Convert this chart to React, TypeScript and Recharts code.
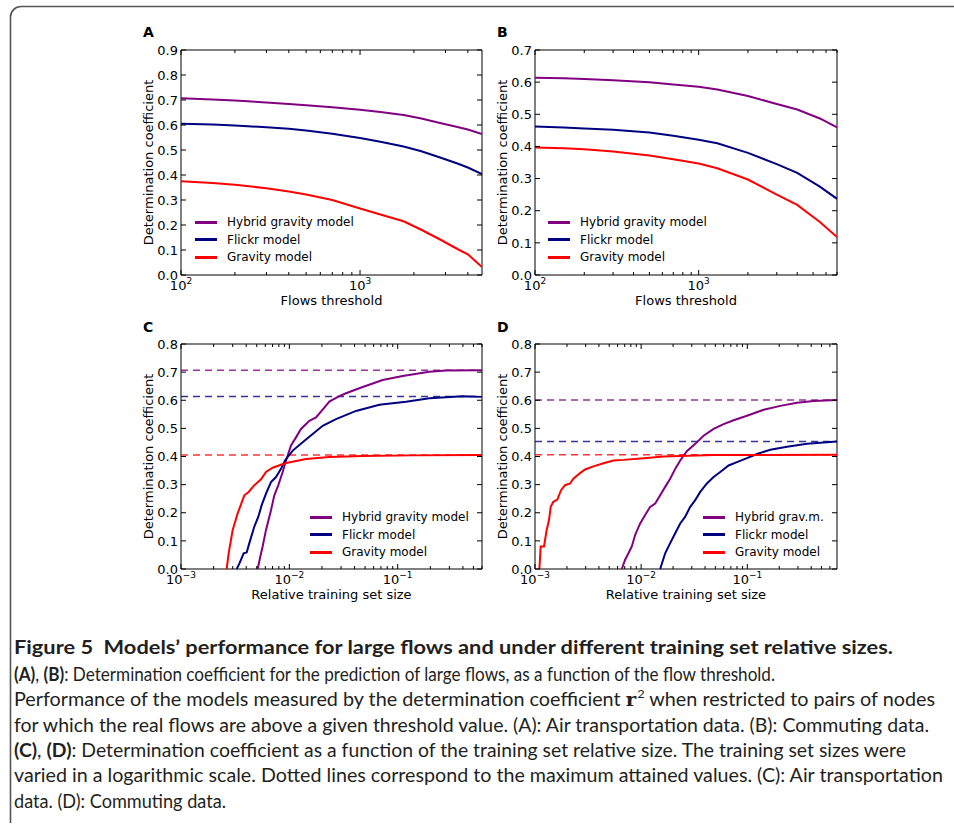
import React from 'react';
import { LineChart, Line, XAxis, YAxis, ReferenceLine, ReferenceArea, Legend, Label } from 'recharts';

const FONT = '"DejaVu Sans", sans-serif';
const CAPTION_FONT = 'Lato, "Open Sans", sans-serif';
const PURPLE = '#800080';
const NAVY = '#000080';
const RED = '#ff0000';

// (A) air transportation: r2 vs flows threshold
const thresholdsA = [100, 150, 200, 300, 400, 500, 700, 1000, 1300, 1750, 2200, 2800, 3500, 4000, 4800];
const hybridA = [0.707, 0.702, 0.698, 0.69, 0.684, 0.679, 0.671, 0.661, 0.652, 0.64, 0.626, 0.608, 0.592, 0.582, 0.564];
const flickrA = [0.605, 0.602, 0.598, 0.591, 0.585, 0.578, 0.565, 0.548, 0.533, 0.514, 0.495, 0.47, 0.446, 0.43, 0.404];
const gravityA = [0.375, 0.368, 0.361, 0.347, 0.334, 0.322, 0.3, 0.266, 0.242, 0.215, 0.181, 0.142, 0.104, 0.083, 0.032];

// (B) commuting: r2 vs flows threshold
const thresholdsB = [100, 150, 200, 300, 500, 700, 1000, 1300, 2000, 3000, 4000, 5500, 7000];
const hybridB = [0.614, 0.612, 0.61, 0.606, 0.6, 0.593, 0.586, 0.577, 0.557, 0.532, 0.515, 0.487, 0.459];
const flickrB = [0.462, 0.459, 0.456, 0.452, 0.443, 0.433, 0.421, 0.41, 0.38, 0.345, 0.318, 0.275, 0.237];
const gravityB = [0.397, 0.394, 0.391, 0.384, 0.372, 0.36, 0.347, 0.332, 0.297, 0.25, 0.218, 0.165, 0.118];

// (C) air transportation: r2 vs relative training set size
const sizeHybridC = [0.0051, 0.00536, 0.00567, 0.00609, 0.00677, 0.00727, 0.00791, 0.00868, 0.00932, 0.01036, 0.01152, 0.01281, 0.0153, 0.01763, 0.02104, 0.02339, 0.02893, 0.03334, 0.04752, 0.07268, 0.1112, 0.196, 0.2794, 0.595];
const hybridC = [0, 0.039, 0.08, 0.139, 0.209, 0.262, 0.298, 0.345, 0.386, 0.439, 0.468, 0.498, 0.527, 0.539, 0.574, 0.595, 0.615, 0.625, 0.647, 0.672, 0.686, 0.701, 0.706, 0.707];
const sizeFlickrC = [0.003266, 0.003454, 0.003788, 0.004038, 0.004273, 0.004752, 0.005173, 0.005554, 0.006089, 0.006772, 0.00753, 0.008377, 0.00912, 0.01074, 0.01327, 0.01642, 0.02031, 0.02696, 0.04125, 0.06772, 0.1194, 0.196, 0.398, 0.595];
const flickrC = [0, 0.019, 0.056, 0.059, 0.092, 0.151, 0.186, 0.227, 0.268, 0.309, 0.327, 0.356, 0.386, 0.421, 0.451, 0.48, 0.509, 0.533, 0.562, 0.584, 0.595, 0.607, 0.614, 0.612];
const sizeGravityC = [0.002639, 0.002754, 0.003, 0.003335, 0.003842, 0.004213, 0.004752, 0.005476, 0.006089, 0.007018, 0.00912, 0.01425, 0.02339, 0.04752, 0.1376, 0.595];
const gravityC = [0, 0.056, 0.139, 0.198, 0.262, 0.274, 0.298, 0.319, 0.345, 0.36, 0.376, 0.391, 0.398, 0.402, 0.404, 0.405];
const maxC = [0.707, 0.613, 0.405];

// (D) commuting: r2 vs relative training set size
const sizeHybridD = [0.006571, 0.007066, 0.007594, 0.008166, 0.008779, 0.009786, 0.01091, 0.01216, 0.01356, 0.01511, 0.01684, 0.01877, 0.02093, 0.02333, 0.02696, 0.03232, 0.03873, 0.04813, 0.05981, 0.07431, 0.09929, 0.1426, 0.2048, 0.2941, 0.4225, 0.7];
const hybridD = [0, 0.033, 0.056, 0.08, 0.121, 0.162, 0.192, 0.221, 0.233, 0.262, 0.292, 0.321, 0.356, 0.386, 0.419, 0.445, 0.474, 0.498, 0.515, 0.529, 0.545, 0.566, 0.58, 0.591, 0.597, 0.601];
const sizeFlickrD = [0.01511, 0.01684, 0.01877, 0.02093, 0.02333, 0.02601, 0.02899, 0.03232, 0.03603, 0.04164, 0.04813, 0.05564, 0.06668, 0.07991, 0.09929, 0.1234, 0.1648, 0.2367, 0.3655, 0.525, 0.7];
const flickrD = [0, 0.056, 0.092, 0.127, 0.162, 0.186, 0.221, 0.245, 0.274, 0.304, 0.327, 0.345, 0.368, 0.38, 0.394, 0.409, 0.424, 0.435, 0.445, 0.45, 0.453];
const sizeGravityD = [0.0011, 0.001131, 0.001216, 0.001288, 0.001356, 0.001405, 0.001489, 0.001624, 0.001759, 0.001919, 0.002139, 0.002299, 0.002658, 0.002963, 0.00355, 0.004413, 0.005483, 0.006813, 0.01131, 0.01624, 0.04813, 0.7];
const gravityD = [0, 0.08, 0.08, 0.139, 0.174, 0.221, 0.239, 0.247, 0.28, 0.298, 0.304, 0.321, 0.341, 0.354, 0.365, 0.376, 0.386, 0.388, 0.395, 0.4, 0.405, 0.406];
const maxD = [0.601, 0.453, 0.406];

// axis ticks
const thresholdTicksA = [100, 200, 300, 400, 500, 600, 700, 800, 900, 1000, 2000, 3000, 4000];
const thresholdTicksB = [100, 200, 300, 400, 500, 600, 700, 800, 900, 1000, 2000, 3000, 4000, 5000, 6000, 7000];
const sizeTicks = [0.001, 0.002, 0.003, 0.004, 0.005, 0.006, 0.007, 0.008, 0.009, 0.01, 0.02, 0.03, 0.04, 0.05, 0.06, 0.07, 0.08, 0.09, 0.1, 0.2, 0.3, 0.4, 0.5, 0.6];
const r2TicksA = [0, 0.1, 0.2, 0.3, 0.4, 0.5, 0.6, 0.7, 0.8, 0.9];
const r2TicksB = [0, 0.1, 0.2, 0.3, 0.4, 0.5, 0.6, 0.7];
const r2TicksCD = [0, 0.1, 0.2, 0.3, 0.4, 0.5, 0.6, 0.7, 0.8];

const Y_AXIS_W = 51;
const TOP_PAD = 30;
const RIGHT_PAD = 20;
const X_AXIS_H = 45;

interface Series {
  name: string;
  color: string;
  xs: number[];
  ys: number[];
  max?: number;
}

function LegendBox({ series }: { series: Series[] }) {
  return (
    <div style={{ fontFamily: FONT, fontSize: 12, color: '#000' }}>
      {series.map((s) => (
        <div key={s.name} style={{ display: 'flex', alignItems: 'center', height: 17.5, whiteSpace: 'nowrap' }}>
          <span style={{ display: 'inline-block', width: 22, height: 3, background: s.color, marginRight: 10 }} />
          {s.name}
        </div>
      ))}
    </div>
  );
}

function Panel(props: {
  plotLeft: number;
  plotTop: number;
  plotW: number;
  plotH: number;
  xDomain: [number, number];
  xTicks: number[];
  yMax: number;
  yTicks: number[];
  xLabel: string;
  series: Series[];
  legendX: number;
  legendY: number;
}) {
  const { plotLeft, plotTop, plotW, plotH, xDomain, xTicks, yMax, yTicks, xLabel, series, legendX, legendY } = props;
  const chartLeft = plotLeft - Y_AXIS_W;
  const chartTop = plotTop - TOP_PAD;
  const width = plotW + Y_AXIS_W + RIGHT_PAD;
  const height = plotH + TOP_PAD + X_AXIS_H;

  // inward ticks on bottom and top spines, labels only on decades
  const xTick = (p: any) => {
    const { x, y, payload } = p;
    const exp = Math.log10(payload.value);
    const major = Math.abs(exp - Math.round(exp)) < 1e-6;
    const len = major ? 5 : 3;
    const e = Math.round(exp);
    return (
      <g>
        <line x1={x} y1={y} x2={x} y2={y - len} stroke="#000" />
        <line x1={x} y1={y - plotH} x2={x} y2={y - plotH + len} stroke="#000" />
        {major && (
          <text x={x} y={y + 15} textAnchor="middle" fontSize={13} fontFamily={FONT} fill="#000">
            10<tspan dy={-6} fontSize={9}>{e < 0 ? '\u2212' + -e : String(e)}</tspan>
          </text>
        )}
      </g>
    );
  };

  const yTick = (p: any) => {
    const { x, y, payload } = p;
    return (
      <g>
        <line x1={x} y1={y} x2={x + 5} y2={y} stroke="#000" />
        <line x1={x + plotW} y1={y} x2={x + plotW - 5} y2={y} stroke="#000" />
        <text x={x - 3} y={y + 4.7} textAnchor="end" fontSize={13} fontFamily={FONT} fill="#000">
          {payload.value.toFixed(1)}
        </text>
      </g>
    );
  };

  return (
    <div style={{ position: 'absolute', left: chartLeft, top: chartTop }}>
      <LineChart width={width} height={height} margin={{ top: TOP_PAD, right: RIGHT_PAD, bottom: 0, left: 0 }}>
        <XAxis
          type="number"
          dataKey="x"
          scale="log"
          domain={xDomain}
          allowDataOverflow
          ticks={xTicks}
          interval={0}
          tick={xTick}
          tickLine={false}
          axisLine={false}
          tickSize={0}
          tickMargin={0}
          height={X_AXIS_H}
        >
          <Label
            content={(lp: any) => {
              const vb = lp.viewBox;
              return (
                <text x={vb.x + vb.width / 2} y={vb.y + 30} textAnchor="middle" fontSize={13} fontFamily={FONT} fill="#000">
                  {xLabel}
                </text>
              );
            }}
          />
        </XAxis>
        <YAxis
          type="number"
          domain={[0, yMax]}
          ticks={yTicks}
          interval={0}
          tick={yTick}
          tickLine={false}
          axisLine={false}
          tickSize={0}
          tickMargin={0}
          width={Y_AXIS_W}
        >
          <Label
            content={(lp: any) => {
              const vb = lp.viewBox;
              const cx = vb.x + 23;
              const cy = vb.y + vb.height / 2;
              return (
                <text x={cx} y={cy} transform={`rotate(-90 ${cx} ${cy})`} textAnchor="middle" fontSize={13} fontFamily={FONT} fill="#000">
                  Determination coefficient
                </text>
              );
            }}
          />
        </YAxis>
        {series
          .filter((s) => s.max !== undefined)
          .map((s) => (
            <ReferenceLine key={'max-' + s.name} y={s.max} stroke={s.color} strokeWidth={1.5} strokeDasharray="7 5" strokeOpacity={0.8} />
          ))}
        {series.map((s) => (
          <Line
            key={s.name}
            data={s.xs.map((x, i) => ({ x, y: s.ys[i] }))}
            dataKey="y"
            name={s.name}
            type="linear"
            stroke={s.color}
            strokeWidth={2}
            dot={false}
            activeDot={false}
            isAnimationActive={false}
          />
        ))}
        <ReferenceArea x1={xDomain[0]} x2={xDomain[1]} y1={0} y2={yMax} fill="none" stroke="#000" strokeWidth={1} ifOverflow="visible" />
        <Legend
          layout="vertical"
          align="center"
          verticalAlign="middle"
          wrapperStyle={{ left: legendX - chartLeft, top: legendY - chartTop - 8.75, width: 'auto', height: 'auto' }}
          content={() => <LegendBox series={series} />}
        />
      </LineChart>
    </div>
  );
}

export default function App() {
  const seriesA: Series[] = [
    { name: 'Hybrid gravity model', color: PURPLE, xs: thresholdsA, ys: hybridA },
    { name: 'Flickr model', color: NAVY, xs: thresholdsA, ys: flickrA },
    { name: 'Gravity model', color: RED, xs: thresholdsA, ys: gravityA },
  ];
  const seriesB: Series[] = [
    { name: 'Hybrid gravity model', color: PURPLE, xs: thresholdsB, ys: hybridB },
    { name: 'Flickr model', color: NAVY, xs: thresholdsB, ys: flickrB },
    { name: 'Gravity model', color: RED, xs: thresholdsB, ys: gravityB },
  ];
  const seriesC: Series[] = [
    { name: 'Hybrid gravity model', color: PURPLE, xs: sizeHybridC, ys: hybridC, max: maxC[0] },
    { name: 'Flickr model', color: NAVY, xs: sizeFlickrC, ys: flickrC, max: maxC[1] },
    { name: 'Gravity model', color: RED, xs: sizeGravityC, ys: gravityC, max: maxC[2] },
  ];
  const seriesD: Series[] = [
    { name: 'Hybrid grav.m.', color: PURPLE, xs: sizeHybridD, ys: hybridD, max: maxD[0] },
    { name: 'Flickr model', color: NAVY, xs: sizeFlickrD, ys: flickrD, max: maxD[1] },
    { name: 'Gravity model', color: RED, xs: sizeGravityD, ys: gravityD, max: maxD[2] },
  ];

  const captionColor = '#231f20';

  return (
    <div style={{ position: 'absolute', left: 0, top: 0, width: 954, height: 826, background: '#fff', overflow: 'hidden' }}>
      <svg width={954} height={826} style={{ position: 'absolute', left: 0, top: 0 }}>
        <path d="M 10.5 823 L 10.5 17 A 10.5 10.5 0 0 1 21 6.5 L 960 6.5" fill="none" stroke="#555" strokeWidth={1.6} />
        <g fontFamily={FONT} fontWeight="bold" fontSize={14} fill="#000">
          <text x={143} y={37}>A</text>
          <text x={497} y={37}>B</text>
          <text x={143} y={332}>C</text>
          <text x={497} y={332}>D</text>
        </g>
        <g fontFamily={CAPTION_FONT} fontSize={18.5} fill={captionColor}>
          <text x={14} y={654} textLength={879} lengthAdjust="spacingAndGlyphs" fontWeight="bold" fontSize={19.5}>
            Figure 5{'\u00a0\u00a0'}Models’ performance for large flows and under different training set relative sizes.
          </text>
          <text x={14} y={681} textLength={761} lengthAdjust="spacingAndGlyphs">
            <tspan fontWeight="bold">(A)</tspan>, <tspan fontWeight="bold">(B)</tspan>: Determination coefficient for the prediction of large flows, as a function of the flow threshold.
          </text>
          <text x={14} y={706} textLength={921} lengthAdjust="spacingAndGlyphs">
            Performance of the models measured by the determination coefficient{' '}
            <tspan fontFamily='"DejaVu Serif", serif' fontWeight="bold">r</tspan>
            <tspan dx={1} dy={-8} fontSize={12}>2</tspan>
            <tspan dy={8}> when restricted to pairs of nodes</tspan>
          </text>
          <text x={14} y={731.5} textLength={915} lengthAdjust="spacingAndGlyphs">
            for which the real flows are above a given threshold value. (A): Air transportation data. (B): Commuting data.
          </text>
          <text x={14} y={757} textLength={892} lengthAdjust="spacingAndGlyphs">
            <tspan fontWeight="bold">(C)</tspan>, <tspan fontWeight="bold">(D)</tspan>: Determination coefficient as a function of the training set relative size. The training set sizes were
          </text>
          <text x={14} y={782} textLength={929} lengthAdjust="spacingAndGlyphs">
            varied in a logarithmic scale. Dotted lines correspond to the maximum attained values. (C): Air transportation
          </text>
          <text x={14} y={807.5} textLength={212} lengthAdjust="spacingAndGlyphs">
            data. (D): Commuting data.
          </text>
        </g>
      </svg>
      <Panel
        plotLeft={181}
        plotTop={50}
        plotW={301}
        plotH={225}
        xDomain={[100, 4800]}
        xTicks={thresholdTicksA}
        yMax={0.9}
        yTicks={r2TicksA}
        xLabel="Flows threshold"
        series={seriesA}
        legendX={195}
        legendY={222}
      />
      <Panel
        plotLeft={535}
        plotTop={50}
        plotW={302}
        plotH={225}
        xDomain={[100, 7000]}
        xTicks={thresholdTicksB}
        yMax={0.7}
        yTicks={r2TicksB}
        xLabel="Flows threshold"
        series={seriesB}
        legendX={548}
        legendY={222}
      />
      <Panel
        plotLeft={181}
        plotTop={344}
        plotW={301}
        plotH={225}
        xDomain={[0.001, 0.6]}
        xTicks={sizeTicks}
        yMax={0.8}
        yTicks={r2TicksCD}
        xLabel="Relative training set size"
        series={seriesC}
        legendX={310}
        legendY={517}
      />
      <Panel
        plotLeft={535}
        plotTop={344}
        plotW={302}
        plotH={225}
        xDomain={[0.001, 0.7]}
        xTicks={sizeTicks}
        yMax={0.8}
        yTicks={r2TicksCD}
        xLabel="Relative training set size"
        series={seriesD}
        legendX={703}
        legendY={517}
      />
    </div>
  );
}
